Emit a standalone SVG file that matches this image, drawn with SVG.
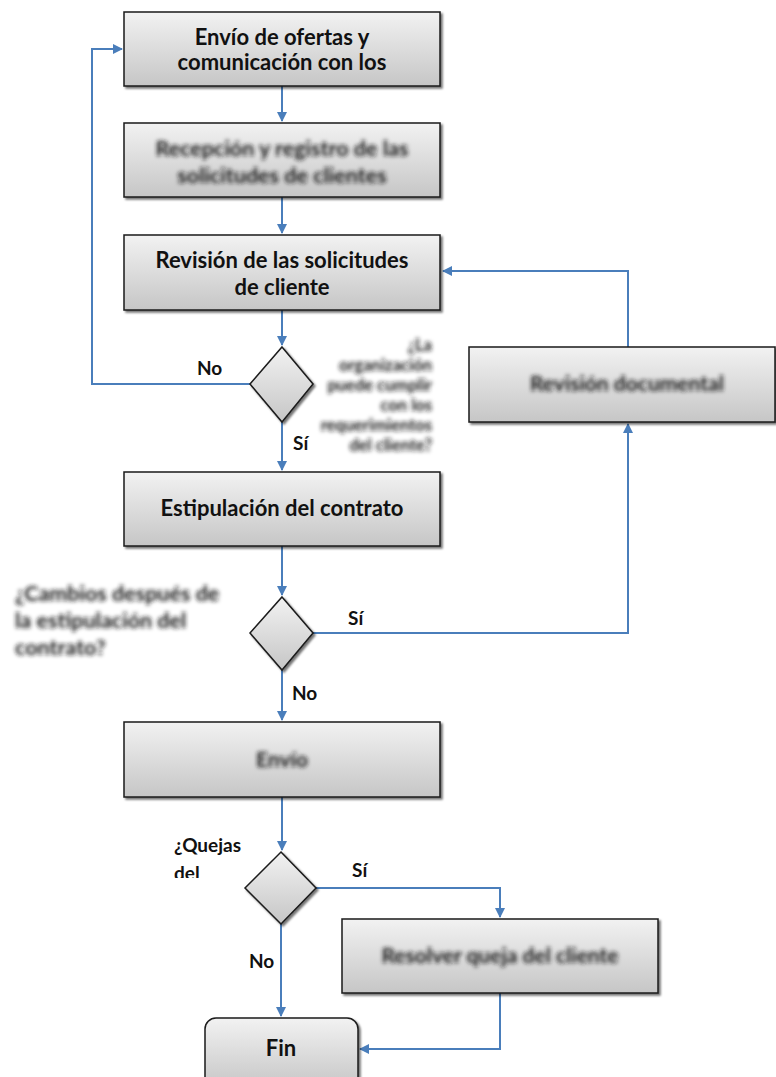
<svg xmlns="http://www.w3.org/2000/svg" width="776" height="1077" viewBox="0 0 776 1077">
<defs>
<linearGradient id="g" x1="0" y1="0" x2="0" y2="1">
<stop offset="0" stop-color="#f2f2f2"/>
<stop offset="1" stop-color="#c6c6c6"/>
</linearGradient>
<filter id="sh" x="-10%" y="-10%" width="130%" height="140%">
<feDropShadow dx="2" dy="2" stdDeviation="1.2" flood-color="#000" flood-opacity="0.55"/>
</filter>
<filter id="bl" x="-10%" y="-30%" width="120%" height="160%">
<feGaussianBlur stdDeviation="2"/>
</filter>
<marker id="ar" viewBox="0 0 10 10" refX="9" refY="5" markerWidth="5" markerHeight="5" orient="auto" markerUnits="strokeWidth">
<path d="M0,0 L10,5 L0,10 z" fill="#4a7ebb"/>
</marker>
<clipPath id="qc"><rect x="160" y="820" width="120" height="58"/></clipPath>
</defs>
<style>
.box{fill:url(#g);stroke:#1a1a1a;stroke-width:1.5;filter:url(#sh)}
.t{font-family:Lato,"Liberation Sans",sans-serif;font-weight:bold;font-size:22px;fill:#111;text-anchor:middle}
.lb{font-family:Lato,"Liberation Sans",sans-serif;font-weight:bold;font-size:19px;fill:#111}
.bt{font-family:Lato,"Liberation Sans",sans-serif;font-weight:bold;fill:#1a1a1a;filter:url(#bl)}
.c{fill:none;stroke:#4a7ebb;stroke-width:2}
</style>
<rect width="776" height="1077" fill="#fff"/>

<g id="connectors">
<path class="c" d="M282,86 V121" marker-end="url(#ar)"/>
<path class="c" d="M282,197 V233" marker-end="url(#ar)"/>
<path class="c" d="M282,310 V345" marker-end="url(#ar)"/>
<path class="c" d="M282,422 V470" marker-end="url(#ar)"/>
<path class="c" d="M250,384 H92 V49 H122" marker-end="url(#ar)"/>
<path class="c" d="M282,546 V595" marker-end="url(#ar)"/>
<path class="c" d="M313,633 H628 V424" marker-end="url(#ar)"/>
<path class="c" d="M628,347 V271 H443" marker-end="url(#ar)"/>
<path class="c" d="M282,670 V720" marker-end="url(#ar)"/>
<path class="c" d="M282,797 V850" marker-end="url(#ar)"/>
<path class="c" d="M316,888 H500 V917" marker-end="url(#ar)"/>
<path class="c" d="M281,924 V1016" marker-end="url(#ar)"/>
<path class="c" d="M500,993 V1049 H360" marker-end="url(#ar)"/>
</g>

<g id="n1">
<rect class="box" x="124" y="12" width="316" height="74"/>
<text class="t" x="282" y="45">Envío de ofertas y</text>
<text class="t" x="282" y="70">comunicación con los</text>
</g>
<g id="n2">
<rect class="box" x="124" y="123" width="316" height="74"/>
<text class="bt" x="282" y="156" font-size="21.5" text-anchor="middle">Recepción y registro de las</text>
<text class="bt" x="282" y="183" font-size="21.5" text-anchor="middle">solicitudes de clientes</text>
</g>
<g id="n3">
<rect class="box" x="124" y="235" width="316" height="75"/>
<text class="t" x="282" y="268">Revisión de las solicitudes</text>
<text class="t" x="282" y="295">de cliente</text>
</g>
<g id="d1">
<path class="box" d="M282,347 L313,384 L282,422 L250,384 Z"/>
<g class="bt" font-size="16.5" text-anchor="end">
<text x="432" y="351">¿La</text>
<text x="432" y="371">organización</text>
<text x="432" y="391">puede cumplir</text>
<text x="432" y="411">con los</text>
<text x="432" y="431">requerimientos</text>
<text x="432" y="451">del cliente?</text>
</g>
</g>
<text class="lb" x="197" y="375">No</text>
<text class="lb" x="293" y="450">Sí</text>
<g id="n4">
<rect class="box" x="469" y="347" width="306" height="75"/>
<text class="bt" x="627" y="391" font-size="21" text-anchor="middle">Revisión documental</text>
</g>
<g id="n5">
<rect class="box" x="124" y="472" width="316" height="74"/>
<text class="t" x="282" y="516">Estipulación del contrato</text>
</g>
<g id="d2">
<path class="box" d="M282,597 L313,633 L282,670 L250,633 Z"/>
<g class="bt" font-size="21.5">
<text x="15" y="601">¿Cambios después de</text>
<text x="15" y="628">la estipulación del</text>
<text x="15" y="655">contrato?</text>
</g>
</g>
<text class="lb" x="348" y="625">Sí</text>
<text class="lb" x="292" y="700">No</text>
<g id="n6">
<rect class="box" x="124" y="722" width="316" height="75"/>
<text class="bt" x="282" y="767" font-size="21" text-anchor="middle">Envío</text>
</g>
<g id="d3">
<path class="box" d="M281,852 L316,888 L281,924 L245,888 Z"/>
<g clip-path="url(#qc)">
<text class="lb" x="174" y="852">¿Quejas</text>
<text class="lb" x="174" y="880">del</text>
</g>
</g>
<text class="lb" x="352" y="877">Sí</text>
<text class="lb" x="249" y="968">No</text>
<g id="n7">
<rect class="box" x="342" y="919" width="316" height="74"/>
<text class="bt" x="500" y="963" font-size="21" text-anchor="middle">Resolver queja del cliente</text>
</g>
<g id="n8">
<rect class="box" x="205" y="1018" width="153" height="70" rx="11"/>
<text class="t" x="281" y="1056">Fin</text>
</g>
</svg>
